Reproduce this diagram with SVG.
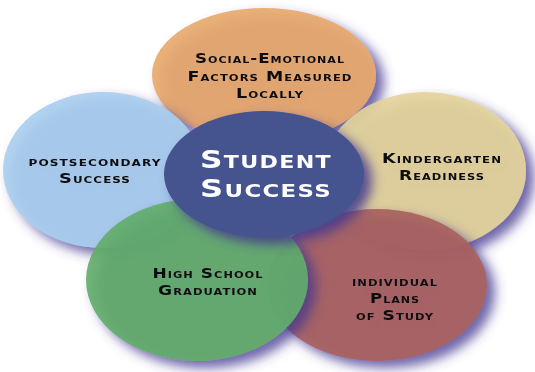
<svg xmlns="http://www.w3.org/2000/svg" width="535" height="372" viewBox="0 0 535 372">
<defs>
<filter id="sh" x="-20%" y="-20%" width="150%" height="150%">
<feGaussianBlur in="SourceAlpha" stdDeviation="6" result="b"/>
<feOffset dx="8" dy="7" result="o"/>
<feFlood flood-color="#43378f" flood-opacity="0.85"/>
<feComposite in2="o" operator="in" result="s"/>
<feMerge><feMergeNode in="s"/><feMergeNode in="SourceGraphic"/></feMerge>
</filter>
</defs>
<style>
.t{font-family:"DejaVu Sans",sans-serif;font-variant:small-caps;font-weight:bold;font-size:13.5px;fill:#111;text-anchor:middle;letter-spacing:0.8px}
.c{font-family:"DejaVu Sans",sans-serif;font-variant:small-caps;font-weight:bold;font-size:24px;fill:#fff;text-anchor:middle;letter-spacing:1px}
.e{opacity:0.9}
</style>
<rect width="535" height="372" fill="#fff"/>
<g id="social-emotional" filter="url(#sh)">
<ellipse class="e" cx="264" cy="75" rx="112" ry="67" fill="#E8A96A"/>
<text class="t" x="270" y="63" textLength="150" lengthAdjust="spacingAndGlyphs">Social-Emotional</text>
<text class="t" x="270" y="81" textLength="165" lengthAdjust="spacingAndGlyphs">Factors Measured</text>
<text class="t" x="270" y="98" textLength="68" lengthAdjust="spacingAndGlyphs">Locally</text>
</g>
<g id="postsecondary" filter="url(#sh)">
<ellipse class="e" cx="103" cy="170" rx="100" ry="78" fill="#A9CDEE"/>
<text class="t" x="95" y="166" textLength="133" lengthAdjust="spacingAndGlyphs">postsecondary</text>
<text class="t" x="95" y="183" textLength="72" lengthAdjust="spacingAndGlyphs">Success</text>
</g>
<g id="kindergarten" filter="url(#sh)">
<ellipse class="e" cx="425" cy="171" rx="101" ry="79" fill="#E3D39A"/>
<text class="t" x="442" y="163" textLength="120" lengthAdjust="spacingAndGlyphs">Kindergarten</text>
<text class="t" x="442" y="180" textLength="86" lengthAdjust="spacingAndGlyphs">Readiness</text>
</g>
<g id="individual-plans" filter="url(#sh)">
<ellipse class="e" cx="377" cy="285" rx="110" ry="76" fill="#A9605C"/>
<text class="t" x="395" y="286" textLength="86" lengthAdjust="spacingAndGlyphs">individual</text>
<text class="t" x="395" y="303" textLength="50" lengthAdjust="spacingAndGlyphs">Plans</text>
<text class="t" x="395" y="320" textLength="78" lengthAdjust="spacingAndGlyphs">of Study</text>
</g>
<g id="high-school" filter="url(#sh)">
<ellipse class="e" cx="197" cy="280" rx="111" ry="81" fill="#62AC69"/>
<text class="t" x="208" y="278" textLength="111" lengthAdjust="spacingAndGlyphs">High School</text>
<text class="t" x="208" y="295" textLength="100" lengthAdjust="spacingAndGlyphs">Graduation</text>
</g>
<g id="student-success" filter="url(#sh)">
<ellipse cx="264" cy="174" rx="100" ry="63" fill="#45528E"/>
<text class="c" x="266" y="168" textLength="132" lengthAdjust="spacingAndGlyphs">Student</text>
<text class="c" x="266" y="197" textLength="132" lengthAdjust="spacingAndGlyphs">Success</text>
</g>
<g id="connectors"/>
</svg>
